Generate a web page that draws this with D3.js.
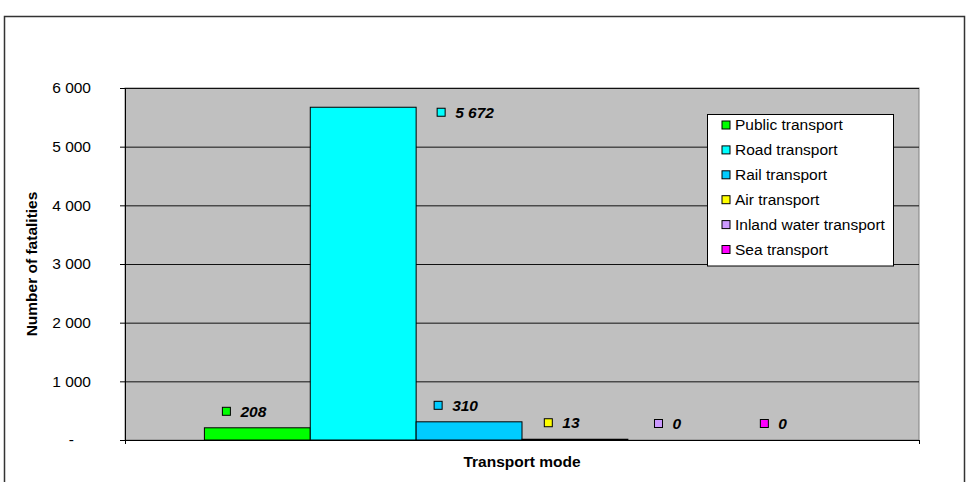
<!DOCTYPE html>
<html lang='en'>
<head>
<meta charset='UTF-8'>
<script src="https://cdnjs.cloudflare.com/ajax/libs/d3/7.8.5/d3.min.js"></script>
<style>
  body { margin: 0; background: #fff; }
  svg { display: block; font-family: 'Liberation Sans', Arial, sans-serif; }
</style>
<title>Transport fatalities</title>
</head>
<body>
<svg id='chart'></svg>
<script>
'use strict'

const modes = ['Public transport', 'Road transport', 'Rail transport', 'Air transport', 'Inland water transport', 'Sea transport']
const fatalities = [208, 5672, 310, 13, 0, 0]
const modeColors = ['#00ff00', '#00ffff', '#00ccff', '#ffff00', '#cc99ff', '#ff00ff']
const yTicks = [0, 1000, 2000, 3000, 4000, 5000, 6000]
const category = ['Transport mode']

const width = 967, height = 482
const plot = { left: 125, right: 919, top: 88, bottom: 440 }
const fs = 15.5

const svg = d3.select('svg').attr('width', width).attr('height', height)

// outer chart frame
svg.append('rect')
  .attr('x', 4.5).attr('y', 16.5)
  .attr('width', 960).attr('height', 480)
  .attr('fill', 'none').attr('stroke', '#333').attr('stroke-width', 1.5)

const y = d3.scaleLinear([0, 6000], [plot.bottom, plot.top])
const xCat = d3.scaleBand(category, [plot.left, plot.right])
const x = d3.scaleBand(modes, [xCat(category[0]), xCat(category[0]) + xCat.bandwidth()])
  .paddingInner(0).paddingOuter(0.75)

const data = modes.map((m, i) => ({ mode: m, value: fatalities[i], color: modeColors[i] }))
const fmt = d3.formatLocale({ decimal: '.', thousands: ' ', grouping: [3], currency: ['', ''] }).format(',')

// plot area
svg.append('rect')
  .attr('x', plot.left).attr('y', plot.top)
  .attr('width', plot.right - plot.left).attr('height', plot.bottom - plot.top)
  .attr('fill', '#c0c0c0').attr('stroke', '#808080')

// gridlines
svg.append('g')
  .attr('transform', `translate(${plot.left},0)`)
  .call(d3.axisLeft(y).tickValues(yTicks.slice(1)).tickSize(-(plot.right - plot.left)).tickFormat(''))
  .call(g => g.select('.domain').remove())
  .call(g => g.selectAll('line').attr('stroke', '#111'))

// bars
svg.append('g').selectAll('rect')
  .data(data)
  .join('rect')
  .attr('x', d => x(d.mode))
  .attr('y', d => y(d.value))
  .attr('width', x.bandwidth())
  .attr('height', d => y(0) - y(d.value))
  .attr('fill', d => d.color)
  .attr('stroke', '#000')

// y axis
svg.append('g')
  .attr('transform', `translate(${plot.left},0)`)
  .call(d3.axisLeft(y).tickValues(yTicks).tickSize(5).tickPadding(29)
    .tickFormat(d => d === 0 ? '-' : fmt(d)))
  .call(g => g.selectAll('text').attr('font-size', fs).attr('font-family', null).attr('fill', '#000'))
  .call(g => g.selectAll('line, path').attr('stroke', '#000'))
  .call(g => g.selectAll('.tick').filter(d => d === 0).select('text').attr('dx', -17))

// x axis
svg.append('g')
  .attr('transform', `translate(0,${plot.bottom})`)
  .call(d3.axisBottom(d3.scaleLinear([0, 1], [plot.left, plot.right])).tickValues([0, 1]).tickSize(4).tickSizeOuter(0).tickFormat(''))
  .call(g => g.selectAll('line, path').attr('stroke', '#000'))

// data labels with legend keys
const labels = svg.append('g').selectAll('g')
  .data(data)
  .join('g')
labels.append('rect')
  .attr('width', 8).attr('height', 8)
  .attr('fill', d => d.color).attr('stroke', '#000')
labels.append('text')
  .text(d => fmt(d.value))
  .attr('font-size', fs).attr('font-weight', 'bold').attr('font-style', 'italic')
  .attr('dy', '0.35em')
labels.each(function (d) {
  const g = d3.select(this)
  const tw = g.select('text').node().getComputedTextLength()
  const w = 18 + tw
  const top = y(d.value)
  let left, cy
  if (top - 26 < plot.top) {
    // no room above the tallest bar: put label beside it
    left = x(d.mode) + x.bandwidth() + 21
    cy = top + 5
  } else {
    left = x(d.mode) + x.bandwidth() / 2 - 13 - w / 2
    cy = top - 16.5
  }
  g.select('rect').attr('x', left).attr('y', cy - 4)
  g.select('text').attr('x', left + 18).attr('y', cy)
})

// axis titles
svg.append('text')
  .attr('transform', `translate(32,${(plot.top + plot.bottom) / 2}) rotate(-90)`)
  .attr('text-anchor', 'middle').attr('dy', '0.35em')
  .attr('font-size', fs).attr('font-weight', 'bold')
  .text('Number of fatalities')

svg.append('text')
  .attr('x', (plot.left + plot.right) / 2).attr('y', 462)
  .attr('text-anchor', 'middle').attr('dy', '0.35em')
  .attr('font-size', fs).attr('font-weight', 'bold')
  .text(category[0])

// legend
const legend = svg.append('g')
legend.append('rect')
  .attr('x', 707.5).attr('y', 114.5)
  .attr('width', 186).attr('height', 151.5)
  .attr('fill', '#fff').attr('stroke', '#000')

const ly = d3.scalePoint(modes, [125, 249.5])
const items = legend.selectAll('g.item')
  .data(data)
  .join('g')
  .attr('class', 'item')
  .attr('transform', d => `translate(722,${ly(d.mode)})`)
items.append('rect')
  .attr('y', -4).attr('width', 8).attr('height', 8)
  .attr('fill', d => d.color).attr('stroke', '#000')
items.append('text')
  .attr('x', 13).attr('dy', '0.35em')
  .attr('font-size', fs)
  .text(d => d.mode)
</script>
</body>
</html>
